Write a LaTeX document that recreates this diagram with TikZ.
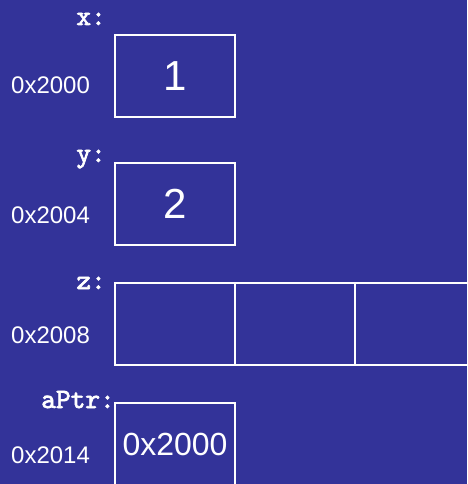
\documentclass[tikz,border=0pt]{standalone}
\usepackage{fontspec}
\setmainfont{Liberation Sans}
\newfontfamily\codefont{lmmono10-regular.otf}[FakeBold=2.5]
\usetikzlibrary{positioning}
\definecolor{slidebg}{HTML}{333399}

\begin{document}
\begin{tikzpicture}[
  x=1pt, y=-1pt,
  cell/.style={draw=white, line width=2pt, minimum width=120pt, minimum height=82pt, inner sep=0pt, outer sep=0pt, text=white},
  var/.style={anchor=base east, inner sep=0pt, text=white, font=\codefont\fontsize{28}{28}\selectfont},
  addr/.style={anchor=base west, inner sep=0pt, text=white, font=\fontsize{24}{24}\selectfont},
  big/.style={font=\fontsize{42}{42}\selectfont}
]
\fill[slidebg] (0,0) rectangle (467,484);
\useasboundingbox (0,0) rectangle (467,484);
\clip (0,0) rectangle (467,484);

% x
\node[var] (xname) at (106,25) {x:};
\node[cell, big, anchor=north west] (xbox) at (115,35) {1};
\node[addr] (xaddr) at (11,94) {0x2000};

% y
\node[var] (yname) at (106,162) {y:};
\node[cell, big, anchor=north west] (ybox) at (115,163) {2};
\node[addr] (yaddr) at (11,223) {0x2004};

% z
\node[var] (zname) at (106,289) {z:};
\node[cell, anchor=north west] (zA) at (115,283) {};
\node[cell, right=0pt of zA] (zB) {};
\node[cell, right=0pt of zB] (zC) {};
\node[addr] (zaddr) at (11,343) {0x2008};

% aPtr
\node[var] (pname) at (115,408) {aPtr:};
\node[cell, anchor=north west, font=\fontsize{32}{32}\selectfont] (pbox) at (115,403) {0x2000};
\node[addr] (paddr) at (11,463) {0x2014};
\end{tikzpicture}
\end{document}
